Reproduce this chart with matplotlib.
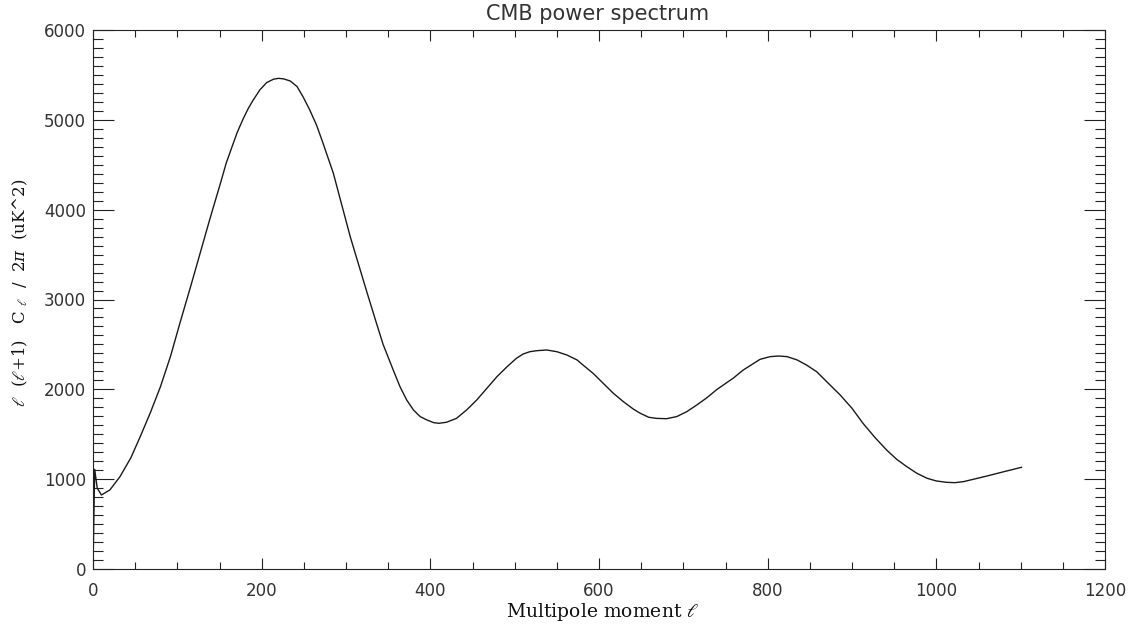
import matplotlib
matplotlib.use("Agg")
import matplotlib.pyplot as plt
from matplotlib.ticker import MultipleLocator

plt.rcParams["mathtext.fontset"] = "dejavuserif"

ell = [0, 2, 5, 10, 20, 32, 45, 56, 68, 80, 92, 103, 115, 127, 139, 151, 158, 166,
       171, 178, 184, 190, 198, 206, 214, 220, 226, 234, 242, 249, 257, 265, 272,
       285, 305, 324, 336, 344, 356, 364, 372, 380, 388, 396, 404, 410, 419, 431,
       443, 455, 467, 479, 491, 502, 510, 518, 526, 538, 550, 562, 574, 581, 593,
       605, 617, 629, 641, 649, 659, 668, 680, 692, 704, 716, 728, 740, 759, 771,
       791, 803, 813, 823, 835, 846, 858, 872, 886, 900, 913, 927, 941, 953, 965,
       977, 989, 1000, 1012, 1022, 1032, 1044, 1060, 1080, 1101]
power = [0, 1110, 900, 824, 880, 1028, 1240, 1473, 1740, 2030, 2370, 2735, 3120,
         3514, 3910, 4290, 4520, 4730, 4860, 5010, 5125, 5221, 5335, 5415, 5452,
         5462, 5456, 5432, 5370, 5258, 5110, 4943, 4760, 4405, 3700, 3106, 2740,
         2500, 2215, 2030, 1881, 1770, 1696, 1659, 1629, 1622, 1633, 1677, 1770,
         1881, 2011, 2141, 2252, 2345, 2393, 2419, 2430, 2438, 2419, 2382, 2327,
         2271, 2178, 2067, 1956, 1862, 1778, 1733, 1689, 1677, 1673, 1696, 1751,
         1826, 1907, 2000, 2123, 2215, 2334, 2364, 2371, 2364, 2327, 2271, 2197,
         2067, 1937, 1789, 1622, 1466, 1325, 1221, 1139, 1065, 1010, 980, 965,
         961, 972, 999, 1035, 1083, 1132]

title = "CMB power spectrum"
xlabel = r"Multipole moment $\ell$"
ylabel = r"$\ell$  ($\ell$+1)   C $_\ell$  /  2$\pi$  (uK^2)"

fig = plt.figure(figsize=(11.34, 6.29), dpi=100)
ax = fig.add_axes([93/1134, 1 - 569/629, (1105-93)/1134, (569-30)/629])

ax.plot(ell, power, color="#1a1a1a", lw=1.0, solid_joinstyle="round")

ax.set_xlim(0, 1200)
ax.set_ylim(0, 6000)
ax.xaxis.set_major_locator(MultipleLocator(200))
ax.xaxis.set_minor_locator(MultipleLocator(50))
ax.yaxis.set_major_locator(MultipleLocator(1000))
ax.yaxis.set_minor_locator(MultipleLocator(100))

for s in ax.spines.values():
    s.set_linewidth(0.8)
    s.set_color("#222222")

ax.tick_params(axis="both", which="both", direction="in", top=True, right=True,
               width=0.8, color="#222222", labelsize=12, labelcolor="#333333")
ax.tick_params(axis="x", which="major", length=7.7, pad=9)
ax.tick_params(axis="x", which="minor", length=4.8)
ax.tick_params(axis="y", which="major", length=14.9, pad=5)
ax.tick_params(axis="y", which="minor", length=7.2)

fig.text(598/1134, 1 - 14/629, title, ha="center", va="center",
         fontsize=15, color="#333333", family="DejaVu Sans")
fig.text(603/1134, 1 - 612/629, xlabel, ha="center", va="center",
         fontsize=13.5, color="#111111", family=["DejaVu Serif", "DejaVu Sans"])
fig.text(20/1134, 1 - 293/629, ylabel, ha="center", va="center", rotation=90,
         fontsize=12, color="#111111", family=["DejaVu Serif", "DejaVu Sans"])

fig.savefig("out.png", dpi=100, facecolor="white")
